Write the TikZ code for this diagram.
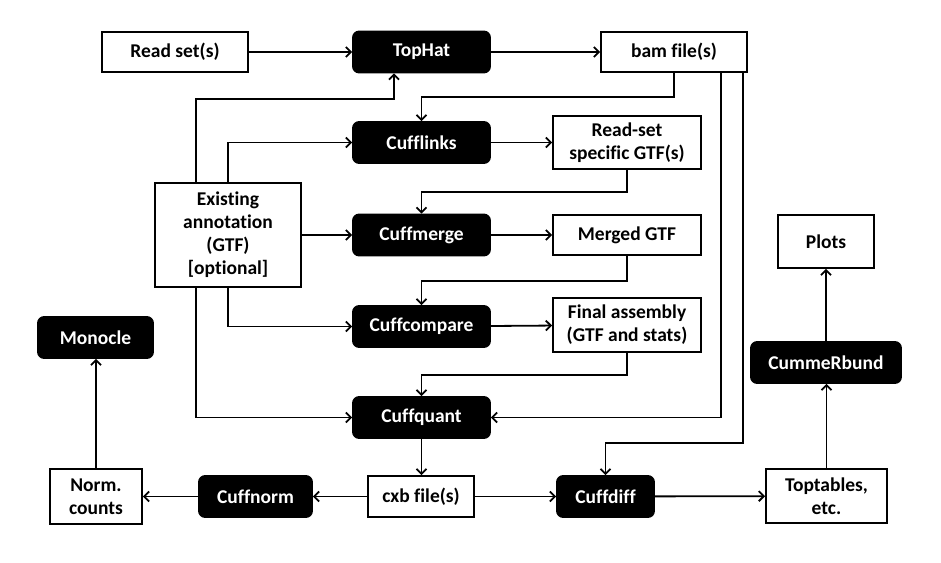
\documentclass[tikz,border=0pt]{standalone}
\usepackage{fontspec}
\setmainfont{Carlito}[Ligatures={NoCommon}]
\usepackage{tikz}
\usetikzlibrary{positioning,calc}
\usetikzlibrary{arrows.meta}
\tikzstyle{tool} = [draw, fill=black, text=white, rounded corners=6pt,
    minimum height=41pt, minimum width=137pt, line width=1.8pt]
\tikzstyle{file} = [draw, fill=white, rectangle, align=center,
    minimum height=40pt, minimum width=148pt, line width=1.8pt]
\tikzstyle{arrow} = [line width=1.8pt,->,>={Straight Barb[length=5pt,width=10pt]}]
\tikzstyle{line} = [line width=1.8pt]

\begin{document}
\begin{tikzpicture}[x=1pt, y=-1pt, font=\fontsize{19.5}{23}\selectfont\bfseries]
    \useasboundingbox (0,0) rectangle (941,562);
    % We start by placing the blocks
    \node [file, minimum width=146pt] (readset) at (175,52) {Read set(s)};
    \node [tool] (tophat) at (421.5,52) {TopHat};
    \node [file, minimum width=146pt] (bam) at (674,52) {bam file(s)};
    \node [tool] (cufflinks) at (421.5,142.5) {Cufflinks};
    \node [file, minimum height=53pt] (gtfs) at (627,142.5) {Read-set\\specific GTF(s)};
    \node [file, minimum width=146pt, minimum height=104pt] (annot) at (228,235)
        {Existing\\annotation\\(GTF)\\{[optional]}};
    \node [tool] (cuffmerge) at (421.5,235) {Cuffmerge};
    \node [file] (merged) at (627,235) {Merged GTF};
    \node [file, minimum width=96pt, minimum height=53pt] (plots) at (826,241.5) {Plots};
    \node [tool] (cuffcompare) at (421.5,326.5) {Cuffcompare};
    \node [file, minimum height=54pt] (final) at (627,325) {Final assembly\\(GTF and stats)};
    \node [tool, minimum width=115pt] (monocle) at (95.5,337.5) {Monocle};
    \node [tool, minimum width=150pt] (cummerbund) at (826,362.5) {CummeRbund};
    \node [tool] (cuffquant) at (421.5,417.5) {Cuffquant};
    \node [file, minimum width=92pt, minimum height=55pt] (norm) at (96,496.5) {Norm.\\counts};
    \node [tool, minimum width=113pt] (cuffnorm) at (255.5,496.5) {Cuffnorm};
    \node [file, minimum width=106pt, minimum height=41pt] (cxb) at (421,496.5) {cxb file(s)};
    \node [tool, minimum width=97pt] (cuffdiff) at (605.5,496.5) {Cuffdiff};
    \node [file, minimum width=121pt, minimum height=54pt] (toptab) at (826.5,496) {Toptables,\\etc.};

    % bend points
    \coordinate (annotl) at ($(annot.north)+(-32,0)$);
    \coordinate (bamq) at (721,72);
    \coordinate (bamd) at (743,72);

    % connectors
    \draw [arrow] (readset) -- (tophat);
    \draw [arrow] (tophat) -- (bam);
    \draw [arrow] (annotl) |- (394,99) -- ($(tophat.south)+(-27.5,0)$);
    \draw [arrow] (annot.north) |- (cufflinks.west);
    \draw [arrow] (bam.south) |- (421.5,97) -- (cufflinks.north);
    \draw [arrow] (cufflinks) -- (gtfs);
    \draw [arrow] (gtfs.south) |- (421.5,192) -- (cuffmerge.north);
    \draw [arrow] (annot) -- (cuffmerge);
    \draw [arrow] (cuffmerge) -- (merged);
    \draw [arrow] (merged.south) |- (421.5,281) -- (cuffcompare.north);
    \draw [arrow] (annot.south) |- (cuffcompare.west);
    \draw [arrow] (cuffcompare) -- (final);
    \draw [arrow] (annotl |- annot.south) |- (cuffquant.west);
    \draw [arrow] (final.south) |- (421.5,375) -- (cuffquant.north);
    \draw [arrow] (bamq) |- (cuffquant.east);
    \draw [arrow] (bamd) |- (605.5,443) -- (cuffdiff.north);
    \draw [arrow] (cuffquant) -- (cuffquant |- cxb.north);
    \draw [arrow] (cxb) -- (cuffnorm);
    \draw [arrow] (cuffnorm) -- (norm);
    \draw [arrow] (norm) -- (norm |- monocle.south);
    \draw [arrow] (cxb) -- (cuffdiff);
    \draw [arrow] (cuffdiff) -- (toptab);
    \draw [arrow] (toptab) -- (toptab |- cummerbund.south);
    \draw [arrow] (cummerbund) -- (cummerbund |- plots.south);
\end{tikzpicture}
\end{document}
